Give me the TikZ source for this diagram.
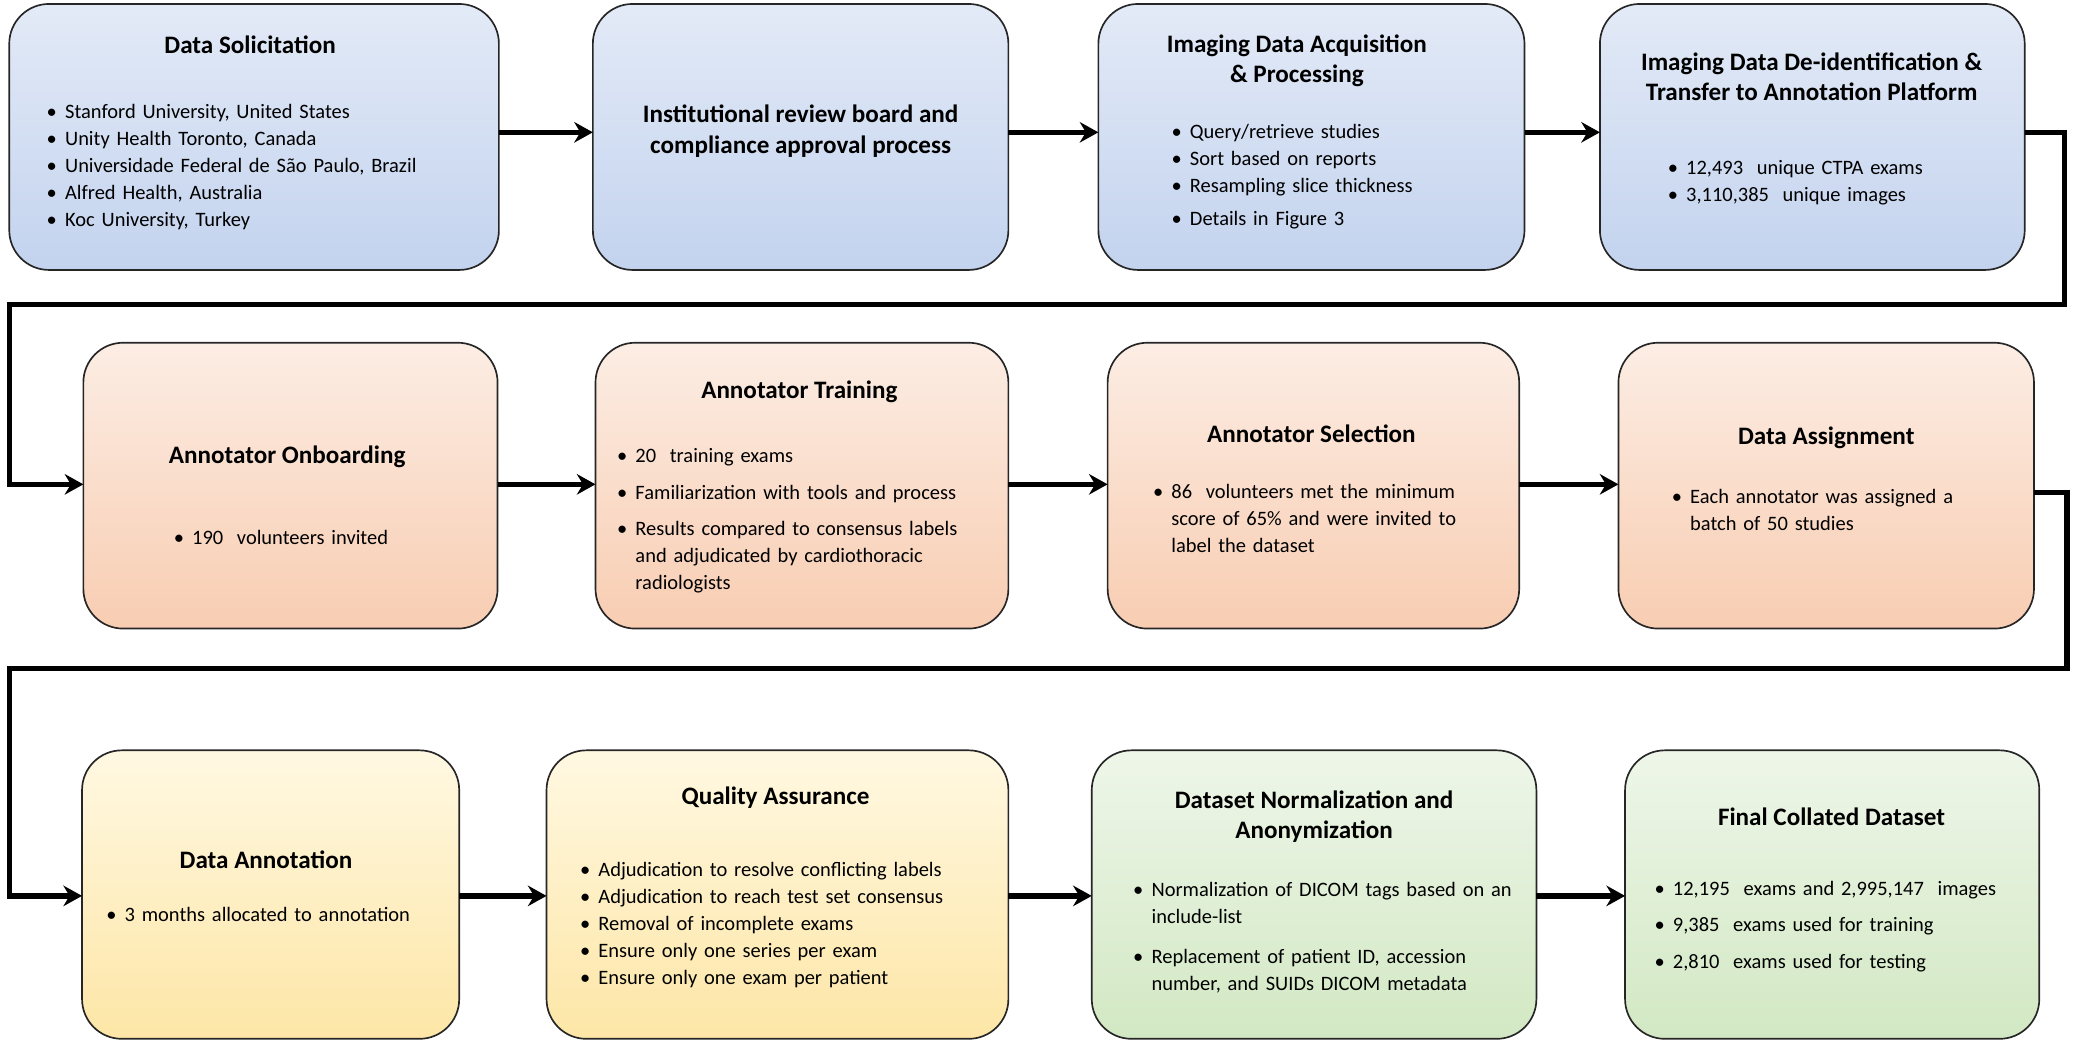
\documentclass[tikz,border=0pt]{standalone}
\usepackage{fontspec}
\setmainfont{Carlito}
\usepackage{enumitem}
\usetikzlibrary{arrows.meta}
\usetikzlibrary{calc}
\definecolor{blueA}{HTML}{E3EAF7}
\definecolor{blueB}{HTML}{C3D3EE}
\definecolor{peachA}{HTML}{FCEDE4}
\definecolor{peachB}{HTML}{F8CDB2}
\definecolor{yellA}{HTML}{FFF8E2}
\definecolor{yellB}{HTML}{FDE6A6}
\definecolor{greenA}{HTML}{EEF6E9}
\definecolor{greenB}{HTML}{D2E8C3}
\setlist[itemize]{label=\textbullet,leftmargin=0.9em,labelsep=0.4em,nosep}
\tikzset{
    stage/.style={draw=black!85,line width=0.9pt,rounded corners=0.75cm},
    title/.style={font=\fontsize{13.5}{16.5}\selectfont\bfseries,align=center},
    items/.style={font=\fontsize{11}{14.5}\selectfont,align=left,anchor=north west,inner sep=0pt},
    flow/.style={-{Stealth[length=10pt,width=11pt]},line width=2.8pt}
}
\begin{document}
\begin{tikzpicture}[x=0.025cm,y=-0.025cm]
    \useasboundingbox (0,0) rectangle (1568,786);

    % row 1
    \begin{scope}[every path/.style={stage,top color=blueA,bottom color=blueB}]
        \path (7,3) rectangle (377,204);
        \path (448,3) rectangle (762,204);
        \path (830,3) rectangle (1152,204);
        \path (1209,3) rectangle (1530,204);
    \end{scope}
    % row 2
    \begin{scope}[every path/.style={stage,top color=peachA,bottom color=peachB}]
        \path (63,259) rectangle (376,475);
        \path (450,259) rectangle (762,475);
        \path (837,259) rectangle (1148,475);
        \path (1223,259) rectangle (1537,475);
    \end{scope}
    % row 3
    \begin{scope}[every path/.style={stage,top color=yellA,bottom color=yellB}]
        \path (62,567) rectangle (347,785);
        \path (413,567) rectangle (762,785);
    \end{scope}
    \begin{scope}[every path/.style={stage,top color=greenA,bottom color=greenB}]
        \path (825,567) rectangle (1161,785);
        \path (1228,567) rectangle (1541,785);
    \end{scope}

    % box anchors for the connectors
    \coordinate (s1) at (377,100);  \coordinate (s2w) at (448,100);
    \coordinate (s2) at (762,100);  \coordinate (s3w) at (830,100);
    \coordinate (s3) at (1152,100); \coordinate (s4w) at (1209,100);
    \coordinate (s4) at (1530,100);
    \coordinate (s5w) at (63,366);  \coordinate (s5) at (376,366);
    \coordinate (s6w) at (450,366); \coordinate (s6) at (762,366);
    \coordinate (s7w) at (837,366); \coordinate (s7) at (1148,366);
    \coordinate (s8w) at (1223,366); \coordinate (s8) at (1537,372);
    \coordinate (s9w) at (62,677);  \coordinate (s9) at (347,677);
    \coordinate (s10w) at (413,677); \coordinate (s10) at (762,677);
    \coordinate (s11w) at (825,677); \coordinate (s11) at (1161,677);
    \coordinate (s12w) at (1228,677);

    % titles
    \node[title] (t1) at (189,34) {Data Solicitation};
    \node[title] (t2) at (605,99) {Institutional review board and\\compliance approval process};
    \node[title] (t3) at (980,46) {Imaging Data Acquisition\\\& Processing};
    \node[title] (t4) at (1369,58) {Imaging Data De-identification \&\\Transfer to Annotation Platform};
    \node[title] (t5) at (217,345) {Annotator Onboarding};
    \node[title] (t6) at (604,296) {Annotator Training};
    \node[title] (t7) at (991,328) {Annotator Selection};
    \node[title] (t8) at (1380,331) {Data Assignment};
    \node[title] (t9) at (201,650) {Data Annotation};
    \node[title] (t10) at (586,603) {Quality Assurance};
    \node[title] (t11) at (993,617) {Dataset Normalization and\\Anonymization};
    \node[title] (t12) at (1384,617) {Final Collated Dataset};

    % bullet lists
    \node[items,text width=8.5cm] (l1) at (35,69) {\begin{itemize}
        \item Stanford University, United States
        \item Unity Health Toronto, Canada
        \item Universidade Federal de São Paulo, Brazil
        \item Alfred Health, Australia
        \item Koc University, Turkey
    \end{itemize}};
    \node[items,text width=7cm] (l3) at (885,84) {\begin{itemize}
        \item Query/retrieve studies
        \item Sort based on reports
        \item Resampling slice thickness
        \item[] \vspace{-11pt}
        \item Details in Figure 3
    \end{itemize}};
    \node[items,text width=6cm] (l4) at (1260,111) {\begin{itemize}
        \item 12,493 \ unique CTPA exams
        \item 3,110,385 \ unique images
    \end{itemize}};
    \node[items,text width=6cm] (l5) at (131,391) {\begin{itemize}
        \item 190 \ volunteers invited
    \end{itemize}};
    \node[items,text width=6.8cm] (l6) at (466,329) {\begin{itemize}[itemsep=5pt]
        \item 20 \ training exams
        \item Familiarization with tools and process
        \item Results compared to consensus labels and adjudicated by cardiothoracic radiologists
    \end{itemize}};
    \node[items,text width=6.6cm] (l7) at (871,356) {\begin{itemize}
        \item 86 \ volunteers met the minimum score of 65\% and were invited to label the dataset
    \end{itemize}};
    \node[items,text width=6.1cm] (l8) at (1263,360) {\begin{itemize}
        \item Each annotator was assigned a batch of 50 studies
    \end{itemize}};
    \node[items,text width=6.8cm] (l9) at (80,676) {\begin{itemize}
        \item 3 months allocated to annotation
    \end{itemize}};
    \node[items,text width=8cm] (l10) at (438,642) {\begin{itemize}
        \item Adjudication to resolve conflicting labels
        \item Adjudication to reach test set consensus
        \item Removal of incomplete exams
        \item Ensure only one series per exam
        \item Ensure only one exam per patient
    \end{itemize}};
    \node[items,text width=7.2cm] (l11) at (856,657) {\begin{itemize}[itemsep=7pt]
        \item Normalization of DICOM tags based on an include-list
        \item Replacement of patient ID, accession number, and SUIDs DICOM metadata
    \end{itemize}};
    \node[items,text width=7.2cm] (l12) at (1250,656) {\begin{itemize}[itemsep=5pt]
        \item 12,195 \ exams and 2,995,147 \ images
        \item 9,385 \ exams used for training
        \item 2,810 \ exams used for testing
    \end{itemize}};

    % connectors
    \foreach \a/\b in {s1/s2w,s2/s3w,s3/s4w,s5/s6w,s6/s7w,s7/s8w,s9/s10w,s10/s11w,s11/s12w}
        \draw[flow] (\a) -- (\b);
    \draw[flow,rounded corners=0pt] (s4) -| (1560,230) -| (7,366) -- (s5w);
    \draw[flow,rounded corners=0pt] (s8) -| (1562,505) -| (7,677) -- (s9w);
\end{tikzpicture}
\end{document}
